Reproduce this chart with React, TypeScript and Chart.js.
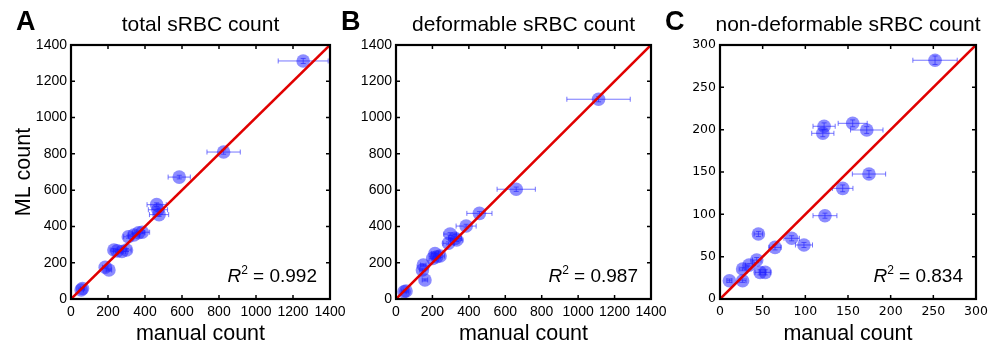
import { useEffect, useRef } from 'react';
import { Chart, registerables } from 'chart.js';

Chart.register(...registerables);

// ---- Data: panel A (total sRBC count) ----
const manualA = [55, 62, 185, 205, 232, 250, 275, 300, 310, 340, 365, 385, 463, 470, 476, 585, 825, 1255];
const mlA = [50, 58, 175, 160, 270, 265, 262, 270, 343, 353, 365, 368, 520, 492, 465, 672, 810, 1312];
const errXA = [12, 12, 15, 15, 20, 20, 20, 25, 25, 30, 35, 40, 52, 52, 52, 60, 90, 135];
const errYA = [5, 5, 6, 6, 8, 8, 8, 8, 8, 8, 8, 8, 10, 10, 10, 10, 12, 14];

// ---- Data: panel B (deformable sRBC count) ----
const manualB = [44, 55, 145, 150, 159, 202, 214, 224, 242, 288, 297, 324, 333, 385, 458, 660, 1112];
const mlB = [40, 44, 160, 187, 105, 224, 251, 233, 237, 307, 358, 334, 325, 402, 472, 605, 1101];
const errXB = [12, 12, 15, 15, 15, 20, 20, 20, 25, 30, 35, 35, 35, 55, 69, 105, 174];
const errYB = [5, 5, 6, 6, 6, 8, 8, 8, 8, 8, 8, 8, 8, 10, 10, 12, 14];

// ---- Data: panel C (non-deformable sRBC count) ----
const manualC = [11, 26.5, 26.5, 34, 43, 45, 47, 53, 64.5, 84, 98.4, 123, 143.8, 174.6, 120.5, 122, 155.5, 172, 252];
const mlC = [21.6, 21.6, 35.4, 40, 46, 76.8, 31.5, 31.5, 61, 71.7, 63.8, 98.4, 130.7, 147.6, 195.7, 204, 207.5, 199.6, 282];
const errXC = [3, 4, 4, 4, 5, 5, 6, 6, 7, 9, 10, 14, 12, 19.5, 13, 13, 17, 19, 26];
const errYC = [2, 2, 2, 2, 3, 3, 3, 3, 3, 3, 3, 3, 4, 4, 4, 4, 4, 4, 5];

const ticksAB = [0, 200, 400, 600, 800, 1000, 1200, 1400];
const ticksC = [0, 50, 100, 150, 200, 250, 300];

const letters = ['A', 'B', 'C'];
const titles = ['total sRBC count', 'deformable sRBC count', 'non-deformable sRBC count'];
const r2Values = ['0.992', '0.987', '0.834'];

const SANS = '"Liberation Sans", Arial, Helvetica, sans-serif';

type Panel = {
  letter: string;
  title: string;
  r2: string;
  manual: number[];
  ml: number[];
  errX: number[];
  errY: number[];
  ticks: number[];
  showYTitle: boolean;
  tickFamily: string;
  tickSize: number;
  left: number;
  width: number;
  yWidth: number;
  padRight: number;
};

const panels: Panel[] = [
  {
    letter: letters[0], title: titles[0], r2: r2Values[0],
    manual: manualA, ml: mlA, errX: errXA, errY: errYA, ticks: ticksAB,
    showYTitle: true, tickFamily: SANS, tickSize: 14,
    left: 0, width: 360, yWidth: 71, padRight: 30,
  },
  {
    letter: letters[1], title: titles[1], r2: r2Values[1],
    manual: manualB, ml: mlB, errX: errXB, errY: errYB, ticks: ticksAB,
    showYTitle: false, tickFamily: SANS, tickSize: 14,
    left: 335, width: 345, yWidth: 61, padRight: 29,
  },
  {
    letter: letters[2], title: titles[2], r2: r2Values[2],
    manual: manualC, ml: mlC, errX: errXC, errY: errYC, ticks: ticksC,
    showYTitle: false, tickFamily: '"DejaVu Sans", Verdana, sans-serif', tickSize: 12.5,
    left: 660, width: 335, yWidth: 60, padRight: 19,
  },
];

const H = 348;

function makePlugin(p: Panel) {
  return {
    id: 'decor' + p.letter,
    beforeDatasetsDraw(chart: any) {
      const { ctx } = chart;
      const x = chart.scales.x;
      const y = chart.scales.y;
      ctx.save();
      ctx.strokeStyle = 'rgba(60,60,255,0.7)';
      ctx.lineWidth = 1;
      const cap = 2.5;
      p.manual.forEach((m, i) => {
        const v = p.ml[i];
        const px = x.getPixelForValue(m);
        const py = y.getPixelForValue(v);
        const x0 = x.getPixelForValue(m - p.errX[i]);
        const x1 = x.getPixelForValue(m + p.errX[i]);
        const y0 = y.getPixelForValue(v - p.errY[i]);
        const y1 = y.getPixelForValue(v + p.errY[i]);
        ctx.beginPath();
        ctx.moveTo(x0, py); ctx.lineTo(x1, py);
        ctx.moveTo(x0, py - cap); ctx.lineTo(x0, py + cap);
        ctx.moveTo(x1, py - cap); ctx.lineTo(x1, py + cap);
        ctx.moveTo(px, y0); ctx.lineTo(px, y1);
        ctx.moveTo(px - cap, y0); ctx.lineTo(px + cap, y0);
        ctx.moveTo(px - cap, y1); ctx.lineTo(px + cap, y1);
        ctx.stroke();
      });
      ctx.restore();
    },
    afterDraw(chart: any) {
      const { ctx, chartArea } = chart;
      const { left, right, top, bottom } = chartArea;
      const x = chart.scales.x;
      const y = chart.scales.y;
      ctx.save();
      // inward ticks on all sides
      ctx.strokeStyle = '#000';
      ctx.lineWidth = 1.5;
      const tl = 4;
      ctx.beginPath();
      p.ticks.forEach((t) => {
        const px = x.getPixelForValue(t);
        ctx.moveTo(px, bottom); ctx.lineTo(px, bottom - tl);
        ctx.moveTo(px, top); ctx.lineTo(px, top + tl);
        const py = y.getPixelForValue(t);
        ctx.moveTo(left, py); ctx.lineTo(left + tl, py);
        ctx.moveTo(right, py); ctx.lineTo(right - tl, py);
      });
      ctx.stroke();
      // frame
      ctx.lineWidth = 2.2;
      ctx.strokeRect(left, top, right - left, bottom - top);

      // panel letter
      ctx.fillStyle = '#000';
      ctx.textBaseline = 'alphabetic';
      ctx.textAlign = 'left';
      ctx.font = `bold 27px ${SANS}`;
      ctx.fillText(p.letter, left - 55, 30);

      // title
      ctx.textAlign = 'center';
      ctx.font = `21px ${SANS}`;
      ctx.fillText(p.title, (left + right) / 2, 31);

      // R^2 label
      const fs = 19;
      const rx = right - 13;
      const ry = bottom - 17;
      ctx.textAlign = 'left';
      ctx.font = `italic ${fs}px ${SANS}`;
      const wR = ctx.measureText('R').width;
      ctx.font = `${Math.round(fs * 0.62)}px ${SANS}`;
      const w2 = ctx.measureText('2').width;
      ctx.font = `${fs}px ${SANS}`;
      const rest = ' = ' + p.r2;
      const wRest = ctx.measureText(rest).width;
      let sx = rx - (wR + w2 + wRest);
      ctx.font = `italic ${fs}px ${SANS}`;
      ctx.fillText('R', sx, ry);
      sx += wR;
      ctx.font = `${Math.round(fs * 0.62)}px ${SANS}`;
      ctx.fillText('2', sx, ry - fs * 0.42);
      sx += w2;
      ctx.font = `${fs}px ${SANS}`;
      ctx.fillText(rest, sx, ry);
      ctx.restore();
    },
  };
}

function PanelChart({ p }: { p: Panel }) {
  const ref = useRef<HTMLCanvasElement | null>(null);
  useEffect(() => {
    if (!ref.current) return;
    const max = p.ticks[p.ticks.length - 1];
    const step = p.ticks[1] - p.ticks[0];
    const tickFont = { family: p.tickFamily, size: p.tickSize };
    const fmt = (v: any) => String(v);
    const chart = new Chart(ref.current, {
      type: 'scatter',
      data: {
        datasets: [
          {
            type: 'line',
            data: [{ x: 0, y: 0 }, { x: max, y: max }],
            borderColor: '#e10000',
            borderWidth: 2.6,
            pointRadius: 0,
            fill: false,
          } as any,
          {
            data: p.manual.map((m, i) => ({ x: m, y: p.ml[i] })),
            backgroundColor: 'rgba(25,25,255,0.5)',
            borderWidth: 0,
            pointRadius: 6.8,
          },
        ],
      },
      options: {
        animation: false,
        responsive: false,
        maintainAspectRatio: false,
        events: [],
        layout: { padding: { top: 45, right: p.padRight, left: 0, bottom: 0 } },
        plugins: { legend: { display: false }, tooltip: { enabled: false }, title: { display: false } },
        scales: {
          x: {
            type: 'linear',
            min: 0,
            max,
            grid: { display: false, drawTicks: false },
            border: { display: false },
            ticks: { stepSize: step, autoSkip: false, maxRotation: 0, minRotation: 0, color: '#000', font: tickFont, padding: 5, callback: fmt },
            title: { display: true, text: 'manual count', color: '#000', font: { family: SANS, size: 21.5, lineHeight: 1 }, padding: { top: 0, bottom: 3 } },
            afterFit: (s: any) => { s.height = 49; s.paddingLeft = 0; s.paddingRight = 0; },
          },
          y: {
            type: 'linear',
            min: 0,
            max,
            grid: { display: false, drawTicks: false },
            border: { display: false },
            ticks: { stepSize: step, autoSkip: false, color: '#000', font: tickFont, padding: 4, callback: fmt },
            title: { display: p.showYTitle, text: 'ML count', color: '#000', font: { family: SANS, size: 21.5, lineHeight: 1 }, padding: { top: 13, bottom: 0 } },
            afterFit: (s: any) => { s.width = p.yWidth; s.paddingTop = 0; s.paddingBottom = 0; },
          },
        },
      },
      plugins: [makePlugin(p)],
    });
    return () => chart.destroy();
  }, [p]);
  return (
    <div style={{ position: 'absolute', left: p.left, top: 0, width: p.width, height: H }}>
      <canvas ref={ref} width={p.width} height={H} style={{ width: p.width, height: H, display: 'block' }} />
    </div>
  );
}

export default function App() {
  return (
    <div style={{ position: 'absolute', left: 0, top: 0, width: 995, height: H, background: '#fff' }}>
      {panels.map((p) => (
        <PanelChart key={p.letter} p={p} />
      ))}
    </div>
  );
}
